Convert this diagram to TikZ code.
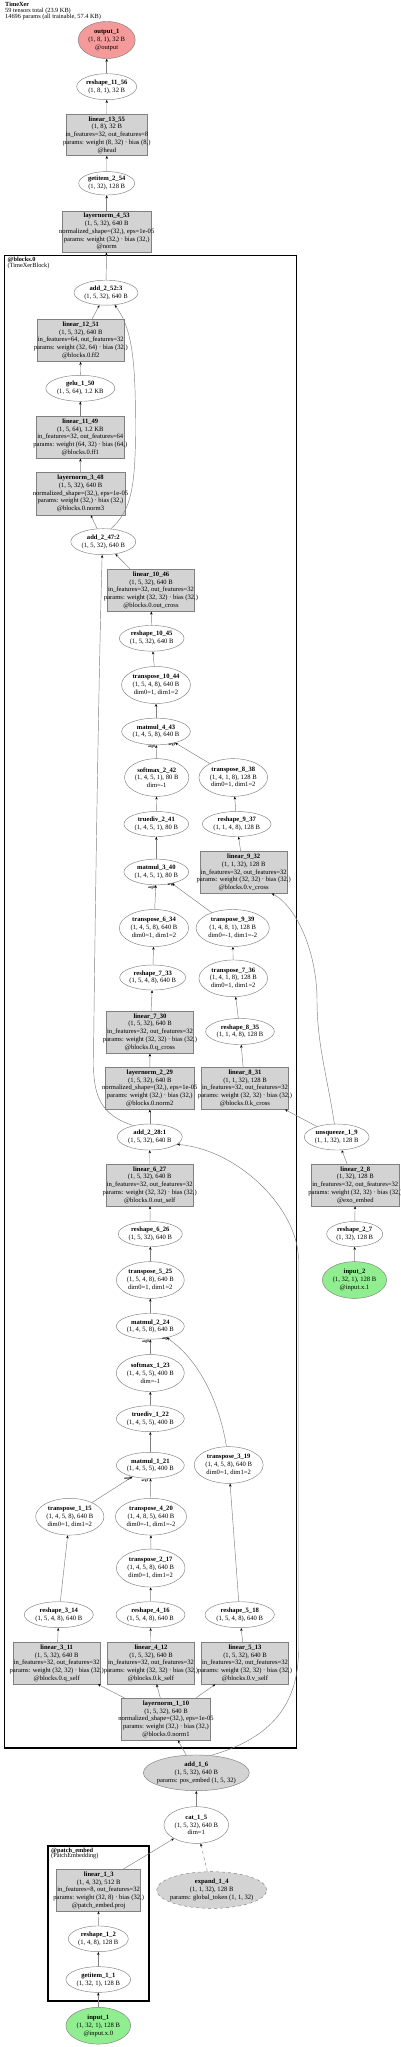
\documentclass[tikz,border=0pt]{standalone}
\usepackage{fontspec}
\setmainfont{Liberation Serif}
\usetikzlibrary{shapes.geometric,arrows.meta,calc}
\definecolor{boxfill}{HTML}{D3D3D3}
\definecolor{edgegray}{HTML}{808080}
\definecolor{outred}{HTML}{F59A9A}
\definecolor{ingreen}{HTML}{90EE90}
\newcommand\mknode[7]{\node[#6,minimum width=#4pt,minimum height=#5pt] (#1) at (#2,#3) {};\node[lbl] (#1-t) at (#2,#3) {#7};}
\begin{document}
\begin{tikzpicture}[x=1pt,y=-1pt,
  ell/.style={ellipse,draw=edgegray,line width=0.45pt,inner sep=0pt},
  box/.style={rectangle,draw=edgegray,fill=boxfill,line width=0.45pt,inner sep=0pt},
  lbl/.style={align=center,inner sep=0pt,font=\fontsize{6.6}{7.8}\selectfont},
  edge/.style={draw=edgegray,line width=0.45pt,-{Stealth[length=3pt,width=2.4pt,color=black]}},
  cluster/.style={draw=black,line width=1.8pt},
  clbl/.style={align=left,anchor=north west,inner sep=0pt,font=\fontsize{6.3}{5.8}\selectfont},
  arglbl/.style={inner sep=0pt,font=\bfseries\fontsize{3.6}{4}\selectfont}]
\useasboundingbox (0,0) rectangle (400,2047);
\fill[white] (0,0) rectangle (400,2047);
% header
\node[clbl] (hdr) at (5,2) {\textbf{TimeXer}\\59 tensors total (23.9 KB)\\14696 params (all trainable, 57.4 KB)};
% clusters
\draw[cluster] (4.5,255.5) rectangle (296.5,1748.3);
\node[clbl] (blk-l) at (7.5,257) {\textbf{@blocks.0}\\(TimeXerBlock)};
\draw[cluster] (47.7,1845.7) rectangle (149.3,2001);
\node[clbl] (pe-l) at (51,1847.5) {\textbf{@patch\_embed}\\(PatchEmbedding)};
% nodes
\mknode{out1}{106.7}{40}{57}{37}{ell,fill=outred}{\textbf{output\_1}\\(1, 8, 1), 32 B\\@output}
\mknode{r1156}{106.7}{86.7}{60}{26}{ell}{\textbf{reshape\_11\_56}\\(1, 8, 1), 32 B}
\mknode{l1355}{106.8}{135}{81.7}{41.3}{box}{\textbf{linear\_13\_55}\\(1, 8), 32 B\\in\_features=32, out\_features=8\\params: weight (8, 32) · bias (8,)\\@head}
\mknode{g254}{106.7}{183.3}{56}{23.5}{ell}{\textbf{getitem\_2\_54}\\(1, 32), 128 B}
\mknode{ln453}{106.7}{231.7}{88.7}{41.3}{box}{\textbf{layernorm\_4\_53}\\(1, 5, 32), 640 B\\normalized\_shape=(32,), eps=1e-05\\params: weight (32,) · bias (32,)\\@norm}
\mknode{add252}{106}{292.7}{64}{25}{ell}{\textbf{add\_2\_52:3}\\(1, 5, 32), 640 B}
\mknode{l1251}{80.8}{340.3}{87}{42.7}{box}{\textbf{linear\_12\_51}\\(1, 5, 32), 640 B\\in\_features=64, out\_features=32\\params: weight (32, 64) · bias (32,)\\@blocks.0.ff2}
\mknode{gelu}{80.3}{388.3}{69}{26}{ell}{\textbf{gelu\_1\_50}\\(1, 5, 64), 1.2 KB}
\mknode{l1149}{80.3}{437.2}{87.3}{42.3}{box}{\textbf{linear\_11\_49}\\(1, 5, 64), 1.2 KB\\in\_features=32, out\_features=64\\params: weight (64, 32) · bias (64,)\\@blocks.0.ff1}
\mknode{ln348}{80.5}{493.5}{89}{43}{box}{\textbf{layernorm\_3\_48}\\(1, 5, 32), 640 B\\normalized\_shape=(32,), eps=1e-05\\params: weight (32,) · bias (32,)\\@blocks.0.norm3}
\mknode{add247}{103.3}{541.7}{65}{26}{ell}{\textbf{add\_2\_47:2}\\(1, 5, 32), 640 B}
\mknode{l1046}{151}{590.3}{87.3}{42}{box}{\textbf{linear\_10\_46}\\(1, 5, 32), 640 B\\in\_features=32, out\_features=32\\params: weight (32, 32) · bias (32,)\\@blocks.0.out\_cross}
\mknode{r1045}{151.7}{638.3}{64.7}{25.7}{ell}{\textbf{reshape\_10\_45}\\(1, 5, 32), 640 B}
\mknode{t1044}{156}{685}{69}{37}{ell}{\textbf{transpose\_10\_44}\\(1, 5, 4, 8), 640 B\\dim0=1, dim1=2}
\mknode{mm443}{156}{731.5}{68.7}{26.7}{ell}{\textbf{matmul\_4\_43}\\(1, 4, 5, 8), 640 B}
\mknode{sm242}{156.7}{777.5}{64.3}{37.7}{ell}{\textbf{softmax\_2\_42}\\(1, 4, 5, 1), 80 B\\dim=-1}
\mknode{t838}{233.3}{777.5}{68.7}{37.7}{ell}{\textbf{transpose\_8\_38}\\(1, 4, 1, 8), 128 B\\dim0=1, dim1=2}
\mknode{td241}{156.3}{824}{64.7}{25}{ell}{\textbf{truediv\_2\_41}\\(1, 4, 5, 1), 80 B}
\mknode{r937}{236.7}{824}{68.7}{25}{ell}{\textbf{reshape\_9\_37}\\(1, 1, 4, 8), 128 B}
\mknode{l932}{243.7}{872.5}{87.3}{41.7}{box}{\textbf{linear\_9\_32}\\(1, 1, 32), 128 B\\in\_features=32, out\_features=32\\params: weight (32, 32) · bias (32,)\\@blocks.0.v\_cross}
\mknode{mm340}{156.3}{872}{64.7}{25.7}{ell}{\textbf{matmul\_3\_40}\\(1, 4, 5, 1), 80 B}
\mknode{t634}{154}{928}{69.3}{37}{ell}{\textbf{transpose\_6\_34}\\(1, 4, 5, 8), 640 B\\dim0=1, dim1=2}
\mknode{t939}{232.7}{928}{73.3}{37}{ell}{\textbf{transpose\_9\_39}\\(1, 4, 8, 1), 128 B\\dim0=-1, dim1=-2}
\mknode{r733}{152.7}{977.5}{66}{25}{ell}{\textbf{reshape\_7\_33}\\(1, 5, 4, 8), 640 B}
\mknode{t736}{233.3}{978.3}{68.7}{36.7}{ell}{\textbf{transpose\_7\_36}\\(1, 4, 1, 8), 128 B\\dim0=1, dim1=2}
\mknode{l730}{150}{1032.2}{86.7}{42.3}{box}{\textbf{linear\_7\_30}\\(1, 5, 32), 640 B\\in\_features=32, out\_features=32\\params: weight (32, 32) · bias (32,)\\@blocks.0.q\_cross}
\mknode{r835}{240}{1031.5}{68.7}{26}{ell}{\textbf{reshape\_8\_35}\\(1, 1, 4, 8), 128 B}
\mknode{ln229}{149.8}{1088.3}{89}{42}{box}{\textbf{layernorm\_2\_29}\\(1, 5, 32), 640 B\\normalized\_shape=(32,), eps=1e-05\\params: weight (32,) · bias (32,)\\@blocks.0.norm2}
\mknode{l831}{245}{1088.3}{87.3}{42}{box}{\textbf{linear\_8\_31}\\(1, 1, 32), 128 B\\in\_features=32, out\_features=32\\params: weight (32, 32) · bias (32,)\\@blocks.0.k\_cross}
\mknode{add228}{149.8}{1137}{65}{26}{ell}{\textbf{add\_2\_28:1}\\(1, 5, 32), 640 B}
\mknode{unsq}{336.7}{1137}{64.7}{26}{ell}{\textbf{unsqueeze\_1\_9}\\(1, 1, 32), 128 B}
\mknode{l627}{149.7}{1185}{87.3}{42}{box}{\textbf{linear\_6\_27}\\(1, 5, 32), 640 B\\in\_features=32, out\_features=32\\params: weight (32, 32) · bias (32,)\\@blocks.0.out\_self}
\mknode{l28}{355.3}{1185}{87.3}{42}{box}{\textbf{linear\_2\_8}\\(1, 32), 128 B\\in\_features=32, out\_features=32\\params: weight (32, 32) · bias (32,)\\@exo\_embed}
\mknode{r626}{150.3}{1234}{64}{25}{ell}{\textbf{reshape\_6\_26}\\(1, 5, 32), 640 B}
\mknode{r27}{354.7}{1234}{56}{25}{ell}{\textbf{reshape\_2\_7}\\(1, 32), 128 B}
\mknode{t525}{150.3}{1280}{68}{36.7}{ell}{\textbf{transpose\_5\_25}\\(1, 5, 4, 8), 640 B\\dim0=1, dim1=2}
\mknode{in2}{354.5}{1280}{64.3}{36.7}{ell,fill=ingreen}{\textbf{input\_2}\\(1, 32, 1), 128 B\\@input.x.1}
\mknode{mm224}{150.3}{1326.3}{68}{25.7}{ell}{\textbf{matmul\_2\_24}\\(1, 4, 5, 8), 640 B}
\mknode{sm123}{150.3}{1373}{68}{37}{ell}{\textbf{softmax\_1\_23}\\(1, 4, 5, 5), 400 B\\dim=-1}
\mknode{td122}{150.3}{1418.7}{68}{26}{ell}{\textbf{truediv\_1\_22}\\(1, 4, 5, 5), 400 B}
\mknode{mm121}{150.3}{1465.3}{68}{26}{ell}{\textbf{matmul\_1\_21}\\(1, 4, 5, 5), 400 B}
\mknode{t319}{228.7}{1465}{69}{36.7}{ell}{\textbf{transpose\_3\_19}\\(1, 4, 5, 8), 640 B\\dim0=1, dim1=2}
\mknode{t115}{69.8}{1516.7}{68.3}{36.7}{ell}{\textbf{transpose\_1\_15}\\(1, 4, 5, 8), 640 B\\dim0=1, dim1=2}
\mknode{t420}{151}{1516.7}{71.3}{36.7}{ell}{\textbf{transpose\_4\_20}\\(1, 4, 8, 5), 640 B\\dim0=-1, dim1=-2}
\mknode{t217}{150.7}{1568}{68.7}{38}{ell}{\textbf{transpose\_2\_17}\\(1, 4, 5, 8), 640 B\\dim0=1, dim1=2}
\mknode{r314}{58.8}{1614.7}{69}{26}{ell}{\textbf{reshape\_3\_14}\\(1, 5, 4, 8), 640 B}
\mknode{r416}{150.5}{1614.7}{69}{26}{ell}{\textbf{reshape\_4\_16}\\(1, 5, 4, 8), 640 B}
\mknode{r518}{239.7}{1614.7}{69.3}{26}{ell}{\textbf{reshape\_5\_18}\\(1, 5, 4, 8), 640 B}
\mknode{l311}{56.7}{1663.2}{86.7}{41.7}{box}{\textbf{linear\_3\_11}\\(1, 5, 32), 640 B\\in\_features=32, out\_features=32\\params: weight (32, 32) · bias (32,)\\@blocks.0.q\_self}
\mknode{l412}{151}{1663.2}{87.3}{41.7}{box}{\textbf{linear\_4\_12}\\(1, 5, 32), 640 B\\in\_features=32, out\_features=32\\params: weight (32, 32) · bias (32,)\\@blocks.0.k\_self}
\mknode{l513}{245}{1663.2}{87.3}{41.7}{box}{\textbf{linear\_5\_13}\\(1, 5, 32), 640 B\\in\_features=32, out\_features=32\\params: weight (32, 32) · bias (32,)\\@blocks.0.v\_self}
\mknode{ln110}{166}{1719.2}{89.3}{41.7}{box}{\textbf{layernorm\_1\_10}\\(1, 5, 32), 640 B\\normalized\_shape=(32,), eps=1e-05\\params: weight (32,) · bias (32,)\\@blocks.0.norm1}
\mknode{add16}{196.3}{1772.8}{106}{35.7}{ell,fill=boxfill}{\textbf{add\_1\_6}\\(1, 5, 32), 640 B\\params: pos\_embed (1, 5, 32)}
\mknode{cat15}{196.3}{1825}{64.7}{36.7}{ell}{\textbf{cat\_1\_5}\\(1, 5, 32), 640 B\\dim=1}
\mknode{l13}{98.7}{1890.2}{84}{41.7}{box}{\textbf{linear\_1\_3}\\(1, 4, 32), 512 B\\in\_features=8, out\_features=32\\params: weight (32, 8) · bias (32,)\\@patch\_embed.proj}
\mknode{exp14}{211.7}{1890}{110}{36.7}{ell,dashed,fill=boxfill}{\textbf{expand\_1\_4}\\(1, 1, 32), 128 B\\params: global\_token (1, 1, 32)}
\mknode{r12}{98.3}{1938.8}{60}{25.7}{ell}{\textbf{reshape\_1\_2}\\(1, 4, 8), 128 B}
\mknode{g11}{98.3}{1979.5}{64.7}{25.7}{ell}{\textbf{getitem\_1\_1}\\(1, 32, 1), 128 B}
\mknode{in1}{98.3}{2025.7}{64.7}{36.7}{ell,fill=ingreen}{\textbf{input\_1}\\(1, 32, 1), 128 B\\@input.x.0}
% edges
\draw[edge] (r1156) -- (out1);
\draw[edge] (l1355) -- (r1156);
\draw[edge] (g254) -- (l1355);
\draw[edge] (ln453) -- (g254);
\draw[edge] (add252) -- (ln453);
\draw[edge] (l1251) -- (add252);
\draw[edge] (gelu) -- (l1251);
\draw[edge] (l1149) -- (gelu);
\draw[edge] (ln348) -- (l1149);
\draw[edge] (add247) -- (ln348);
\draw[edge] (add247.60) .. controls (130,512) and (135.5,490) .. (135.5,430) .. controls (135.5,370) and (134,330) .. (add252.-55);
\draw[edge] (l1046) -- (add247);
\draw[edge] (add228.145) .. controls (100,1115) and (93,1095) .. (93.5,1060) .. controls (94,1000) and (98,700) .. (add247.-95);
\draw[edge] (r1045) -- (l1046);
\draw[edge] (t1044) -- (r1045);
\draw[edge] (mm443) -- (t1044);
\draw[edge] (sm242) -- (mm443);
\draw[edge] (t838) -- (mm443);
\draw[edge] (td241) -- (sm242);
\draw[edge] (mm340) -- (td241);
\draw[edge] (r937) -- (t838);
\draw[edge] (l932) -- (r937);
\draw[edge] (t634) -- (mm340);
\draw[edge] (t939) -- (mm340);
\draw[edge] (r733) -- (t634);
\draw[edge] (t736) -- (t939);
\draw[edge] (l730) -- (r733);
\draw[edge] (r835) -- (t736);
\draw[edge] (ln229) -- (l730);
\draw[edge] (l831) -- (r835);
\draw[edge] (add228) -- (ln229);
\draw[edge] (unsq) -- (l831);
\draw[edge] (unsq.100) .. controls (328,1080) and (317,1045) .. (317,1000) .. controls (317,950) and (295,905) .. ($(l932.south)+(28,0)$);
\draw[edge] (l627) -- (add228);
\draw[edge] (add16.50) .. controls (265,1740) and (298.5,1710) .. (298.5,1650) -- (298.5,1260) .. controls (298.5,1210) and (240,1150) .. (add228.-15);
\draw[edge] (l28) -- (unsq);
\draw[edge] (r626) -- (l627);
\draw[edge] (r27) -- (l28);
\draw[edge] (in2) -- (r27);
\draw[edge] (t525) -- (r626);
\draw[edge] (mm224) -- (t525);
\draw[edge] (sm123) -- (mm224);
\draw[edge] (t319.97) .. controls (220,1405) and (200,1360) .. (mm224.-35);
\draw[edge] (td122) -- (sm123);
\draw[edge] (mm121) -- (td122);
\draw[edge] (t115) -- (mm121);
\draw[edge] (t420) -- (mm121);
\draw[edge] (r518) -- (t319);
\draw[edge] (r314) -- (t115);
\draw[edge] (t217) -- (t420);
\draw[edge] (r416) -- (t217);
\draw[edge] (l311) -- (r314);
\draw[edge] (l412) -- (r416);
\draw[edge] (l513) -- (r518);
\draw[edge] (ln110) -- (l311);
\draw[edge] (ln110) -- (l412);
\draw[edge] (ln110) -- (l513);
\draw[edge] (add16) -- (ln110);
\draw[edge] (cat15) -- (add16);
\draw[edge] ($(l13.north)+(24.6,0)$) -- (cat15);
\draw[edge,dashed] (exp14) -- (cat15);
\draw[edge] (r12) -- (l13);
\draw[edge] (g11) -- (r12);
\draw[edge] (in1) -- (g11);
% edge labels
\node[arglbl] (a443a) at (151.5,747) {arg0};
\node[arglbl] (a443b) at (172,744.5) {arg1};
\node[arglbl] (a340a) at (151.5,887.5) {arg0};
\node[arglbl] (a340b) at (171,885) {arg1};
\node[arglbl] (a224a) at (145.5,1341.5) {arg0};
\node[arglbl] (a224b) at (165.5,1339) {arg1};
\node[arglbl] (a121a) at (127.5,1478.5) {arg0};
\node[arglbl] (a121b) at (145,1480.5) {arg1};
\end{tikzpicture}
\end{document}
